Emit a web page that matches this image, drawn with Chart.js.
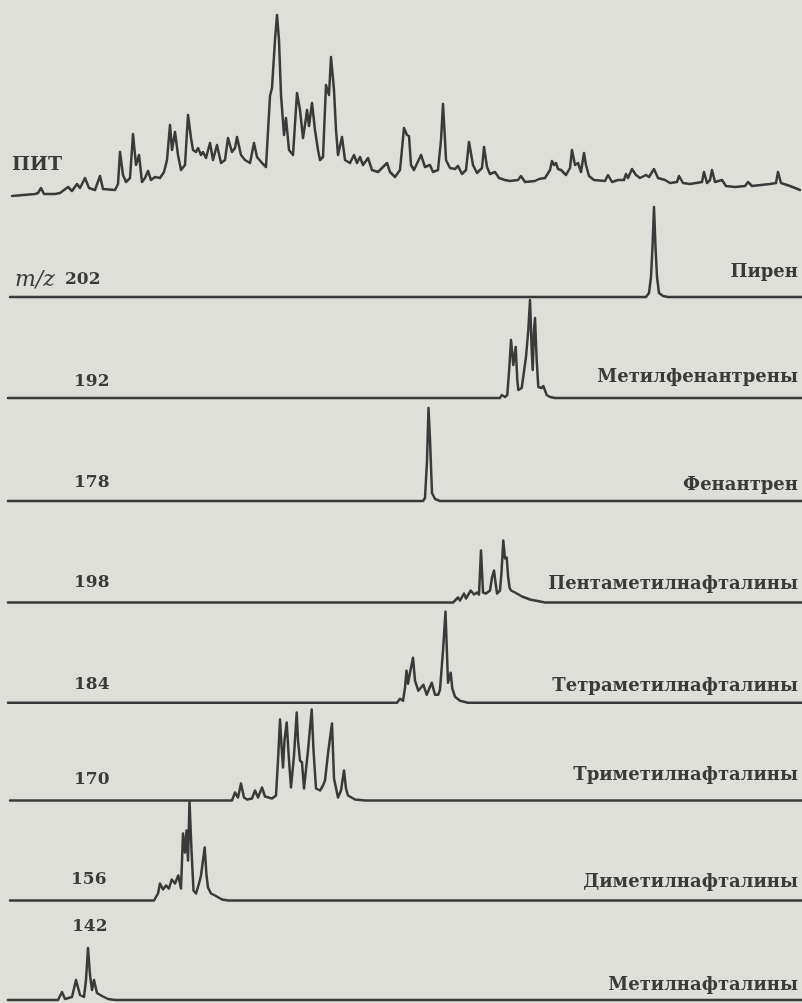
<!DOCTYPE html>
<html>
<head>
<meta charset="utf-8">
<script src="https://cdn.jsdelivr.net/npm/chart.js@4.4.1/dist/chart.umd.min.js"></script>
<style>
  html, body { margin: 0; padding: 0; background: #dfdfd9; }
  #wrap { position: relative; width: 802px; height: 1003px; }
  canvas { display: block; }
</style>
</head>
<body>
<div id="wrap"><canvas id="c" width="802" height="1003"></canvas></div>
<script>
// ===== DATA: [retention position, intensity above baseline] per chromatogram =====
const ionLabels = ['ПИТ', '202', '192', '178', '198', '184', '170', '156', '142'];
const compoundLabels = ['', 'Пирен', 'Метилфенантрены', 'Фенантрен', 'Пентаметилнафталины',
  'Тетраметилнафталины', 'Триметилнафталины', 'Диметилнафталины', 'Метилнафталины'];

const ticTrace = [[12,0],[35,2],[38,3],[41,8],[44,2],[55,2],[60,3],[68,9],[72,5],[77,12],[80,8],[85,18],[89,8],[95,6],[100,20],[103,7],[115,6],[118,12],[120,44],[123,21],[126,14],[130,18],[133,62],[136,31],[139,41],[142,14],[145,18],[148,25],[151,16],[155,19],[160,18],[164,24],[167,36],[170,71],[172,46],[175,64],[178,41],[181,26],[185,31],[188,81],[191,58],[193,46],[196,44],[198,48],[201,41],[203,44],[206,38],[210,53],[213,36],[217,51],[221,33],[225,36],[228,58],[232,44],[235,48],[237,59],[241,41],[245,36],[250,33],[254,53],[257,39],[262,33],[266,29],[270,100],[272,108],[275,156],[277,181],[279,156],[281,101],[284,61],[286,78],[289,46],[293,41],[297,103],[300,86],[303,58],[306,78],[307,86],[309,70],[312,93],[315,66],[318,46],[320,36],[323,39],[326,111],[329,101],[331,139],[334,106],[336,66],[338,41],[342,59],[345,36],[350,33],[354,41],[357,33],[360,39],[363,31],[368,38],[372,26],[378,24],[387,33],[390,24],[395,19],[400,26],[404,68],[407,61],[409,60],[411,31],[414,26],[421,41],[425,29],[430,31],[433,24],[438,26],[441,56],[443,92],[445,56],[446,36],[450,28],[455,27],[458,30],[462,22],[466,26],[469,54],[473,31],[477,23],[482,28],[484,49],[487,29],[490,22],[495,24],[499,18],[505,16],[510,15],[518,16],[521,20],[525,14],[535,15],[539,17],[545,18],[550,26],[552,35],[554,31],[556,33],[558,27],[561,26],[566,21],[570,28],[572,46],[575,31],[578,33],[581,24],[584,43],[586,31],[589,20],[594,16],[605,15],[608,21],[612,14],[618,16],[624,16],[626,22],[628,18],[632,27],[636,21],[640,18],[646,21],[649,19],[654,27],[658,18],[665,16],[670,13],[677,14],[679,20],[683,13],[690,12],[702,14],[704,24],[707,13],[710,16],[712,26],[715,14],[722,16],[726,10],[735,9],[745,10],[748,14],[752,10],[770,12],[776,13],[778,24],[781,13],[790,10],[800,6]];

const pyrene202 = [[10,0],[646,0],[649,4],[651,20],[652.5,50],[654,90],[655.5,50],[657,20],[659,4],[663,1],[668,0],[802,0]];

const methylphenanthrenes192 = [[8,0],[500,0],[501.7,3],[505,1],[507.3,3],[509.3,30],[511,58],[513.3,33],[515.7,51],[517.3,18],[518.3,8],[521.7,10],[526,41],[528.3,68],[530,98],[531.7,48],[532.7,28],[534,68],[535,80],[536.7,38],[538.3,11],[541.7,10],[543.3,12],[546.7,3],[550,1],[555,0],[802,0]];

const phenanthrene178 = [[8,0],[423,0],[425,3],[427,40],[428.5,93],[430,61],[432,8],[435,2],[440,0],[802,0]];

const pentamethylnaphthalenes198 = [[8,0],[453,0],[458,5],[460,2],[464,9],[466,4],[470.7,12],[474,8],[477,10],[479,8],[481,52],[483,10],[486,9],[490,12],[492,25],[494,32],[495.5,20],[497,9],[500,12],[501.5,30],[503.3,62],[505,44],[506.7,45],[508,27],[509.5,15],[511,12],[515,10],[522,6],[530,3],[540,1],[545,0],[802,0]];

const tetramethylnaphthalenes184 = [[8,0],[397,0],[400,4],[403,2],[405,15],[406.5,32],[408,19],[410,30],[413,45],[415,22],[418.3,12],[420,14],[423.3,18],[426.7,8],[431.7,20],[435,8],[438.3,8],[440,13],[443,52],[445.5,91],[448,20],[450.7,30],[452.3,14],[455,6],[460,2],[468,0],[802,0]];

const trimethylnaphthalenes170 = [[10,0],[232,0],[235,8],[238,3],[241,17],[244,3],[247,1],[252,2],[255,10],[258,3],[262,13],[265,4],[272,2],[276,5],[278,40],[280,81],[281.5,55],[283,33],[284.5,60],[286.7,78],[289,40],[291,13],[294,45],[296.7,88],[298,60],[300,40],[302,38],[304,12],[308,50],[311.7,91],[313.5,50],[316,12],[320,10],[323,15],[325,20],[328,47],[332,77],[334,22],[338,3],[341,10],[344,30],[346,12],[348,5],[355,1],[365,0],[802,0]];

const dimethylnaphthalenes156 = [[10,0],[154,0],[158,7],[160,17],[163,11],[166,15],[169,12],[171.7,21],[175,17],[178.3,25],[181,12],[183,67],[185,48],[186.5,70],[188,40],[189.5,99],[191.5,50],[193.5,10],[196,7],[199,17],[201,25],[204.7,53],[206.5,25],[208,13],[211,7],[215,5],[222,1],[228,0],[802,0]];

const methylnaphthalenes142 = [[8,0],[58,0],[62,8],[65,1],[72,3],[76,20],[80,5],[84,3],[86,20],[88,52],[90,25],[92,10],[94,20],[97,7],[102,4],[108,1],[115,0],[802,0]];

const traces = [ticTrace, pyrene202, methylphenanthrenes192, phenanthrene178,
  pentamethylnaphthalenes198, tetramethylnaphthalenes184, trimethylnaphthalenes170,
  dimethylnaphthalenes156, methylnaphthalenes142];

// ===== LAYOUT (positions / styles) =====
const H = 1003, W = 802;
const baselinePx = [196, 297, 398, 501, 602.5, 702.7, 800.5, 900.5, 1000];
const leftLabelPos = [[12,165],[65,280],[74,382],[74,483],[74,583],[74,685],[74,780],[71,880],[72,927]];
const rightLabelY = [0, 272, 377, 485, 584, 686, 775, 882, 985];
const ink = '#3a3a3a';
const serif = '"DejaVu Serif", "Liberation Serif", serif';

const datasets = traces.map((tr, i) => ({
  data: tr.map(p => ({ x: p[0], y: (H - baselinePx[i]) + p[1] })),
  borderColor: ink,
  borderWidth: 2.5,
  pointRadius: 0,
  tension: 0,
  fill: false,
  borderJoinStyle: 'round',
  borderCapStyle: 'round',
  clip: false
}));

const labelPlugin = {
  id: 'labels',
  afterDraw(chart) {
    const ctx = chart.ctx;
    ctx.save();
    ctx.fillStyle = ink;
    ctx.textBaseline = 'middle';
    ionLabels.forEach((t, i) => {
      const [x, y] = leftLabelPos[i];
      ctx.textAlign = 'left';
      if (i === 1) {
        ctx.font = 'italic 22px ' + serif;
        ctx.fillText('m/z', 15, y);
      }
      ctx.font = (i === 0 ? 'bold 19px ' : 'bold 17px ') + serif;
      ctx.fillText(t, x, y);
    });
    ctx.font = 'bold 18px ' + serif;
    ctx.textAlign = 'right';
    compoundLabels.forEach((t, i) => {
      if (t) ctx.fillText(t, 798, rightLabelY[i]);
    });
    ctx.restore();
  }
};

new Chart(document.getElementById('c'), {
  type: 'line',
  data: { datasets },
  options: {
    responsive: false,
    animation: false,
    layout: { padding: 0 },
    plugins: { legend: { display: false }, tooltip: { enabled: false } },
    scales: {
      x: { type: 'linear', min: 0, max: W, display: false },
      y: { type: 'linear', min: 0, max: H, display: false }
    }
  },
  plugins: [labelPlugin]
});
</script>
</body>
</html>
